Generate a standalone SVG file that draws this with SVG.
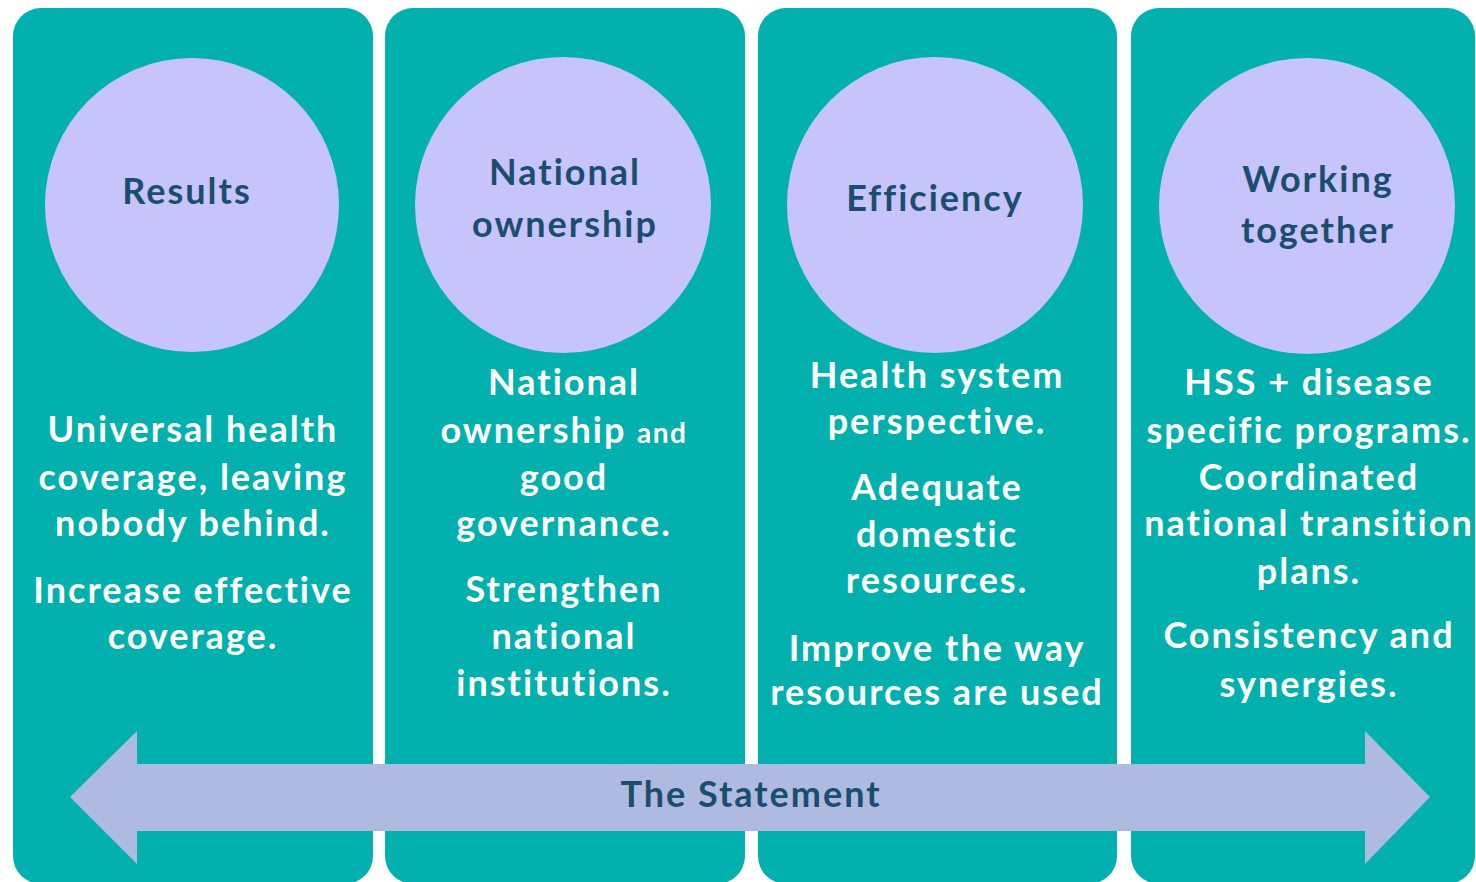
<svg xmlns="http://www.w3.org/2000/svg" width="1476" height="882" viewBox="0 0 1476 882">
<style>
.panel{fill:#02B0AD}
.circ{fill:#C6C4FB}
.ct{font-family:Lato,"Open Sans","Liberation Sans",sans-serif;font-weight:bold;font-size:36px;letter-spacing:2px;fill:#1B4E6E;text-anchor:middle}
.bt{font-family:Lato,"Open Sans","Liberation Sans",sans-serif;font-weight:bold;font-size:36px;letter-spacing:2px;fill:#FFFFFF;text-anchor:middle}
.sm{font-size:28px;letter-spacing:1.5px}
</style>
<rect width="1476" height="882" fill="#FFFFFF"/>
<g id="panel-results">
<rect class="panel" x="13" y="8" width="360" height="876" rx="28"/>
<circle class="circ" cx="192" cy="205" r="147"/>
<text class="ct" x="187" y="204">Results</text>
<text class="bt" x="193" y="442">Universal health</text>
<text class="bt" x="193" y="490">coverage, leaving</text>
<text class="bt" x="193" y="536">nobody behind.</text>
<text class="bt" x="193" y="603">Increase effective</text>
<text class="bt" x="193" y="649">coverage.</text>
</g>
<g id="panel-ownership">
<rect class="panel" x="385" y="8" width="360" height="876" rx="28"/>
<circle class="circ" cx="563" cy="205" r="148"/>
<text class="ct" x="565" y="185">National</text>
<text class="ct" x="565" y="237">ownership</text>
<text class="bt" x="564" y="395">National</text>
<text class="bt" x="564" y="443">ownership <tspan class="sm">and</tspan></text>
<text class="bt" x="564" y="490">good</text>
<text class="bt" x="564" y="536">governance.</text>
<text class="bt" x="564" y="602">Strengthen</text>
<text class="bt" x="564" y="649">national</text>
<text class="bt" x="564" y="696">institutions.</text>
</g>
<g id="panel-efficiency">
<rect class="panel" x="758" y="8" width="359" height="876" rx="28"/>
<circle class="circ" cx="935" cy="205" r="148"/>
<text class="ct" x="935" y="211">Efficiency</text>
<text class="bt" x="937" y="388">Health system</text>
<text class="bt" x="937" y="434">perspective.</text>
<text class="bt" x="937" y="500">Adequate</text>
<text class="bt" x="937" y="547">domestic</text>
<text class="bt" x="937" y="593">resources.</text>
<text class="bt" x="937" y="661">Improve the way</text>
<text class="bt" x="937" y="705">resources are used</text>
</g>
<g id="panel-together">
<rect class="panel" x="1131" y="8" width="344" height="876" rx="28"/>
<circle class="circ" cx="1307" cy="206" r="148"/>
<text class="ct" x="1318" y="192">Working</text>
<text class="ct" x="1318" y="243">together</text>
<text class="bt" x="1309" y="395">HSS + disease</text>
<text class="bt" x="1309" y="443">specific programs.</text>
<text class="bt" x="1309" y="490">Coordinated</text>
<text class="bt" x="1309" y="536">national transition</text>
<text class="bt" x="1309" y="584">plans.</text>
<text class="bt" x="1309" y="648">Consistency and</text>
<text class="bt" x="1309" y="697">synergies.</text>
</g>
<g id="connectors">
<polygon points="70,797 137,731 137,764 1365,764 1365,731 1430,797 1365,864 1365,831 137,831 137,864" fill="#AEBADF"/>
<text class="ct" x="751" y="807">The Statement</text>
</g>
</svg>
